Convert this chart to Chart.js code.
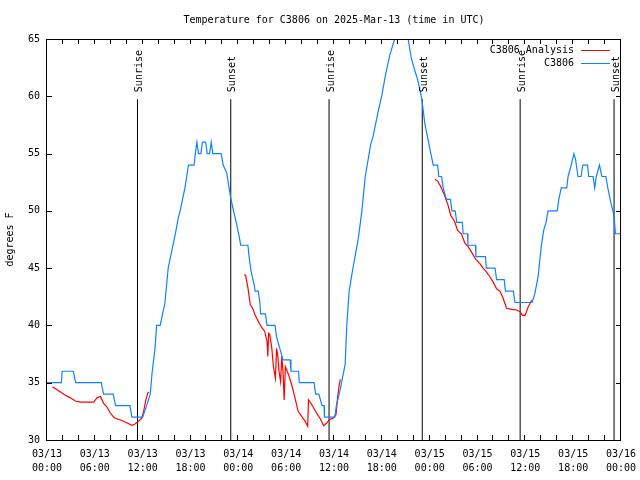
<!DOCTYPE html>
<html>
<head>
<meta charset="utf-8">
<script src="https://cdn.jsdelivr.net/npm/chart.js@4.4.1/dist/chart.umd.min.js"></script>
<style>
  html, body { margin: 0; padding: 0; background: #fff; }
</style>
</head>
<body>
<canvas id="tempChart" width="640" height="480"></canvas>
<script>
// Hours since 2025-03-13 00:00 UTC
const obsHours = [0, 1.8, 1.9, 3.3, 3.6, 6.8, 7.1, 8.3, 8.6, 10.4, 10.65, 12.0, 12.5, 12.95, 13.2, 13.55, 13.75, 14.2, 14.5, 14.8,
  15.2, 15.65, 16.1, 16.5, 16.7, 17.0, 17.3, 17.75, 18.45, 18.6, 18.8, 19.0, 19.3, 19.5, 19.9, 20.1, 20.4, 20.6, 20.8, 21.85,
  22.1, 22.55, 22.75, 23.05, 23.4, 23.8, 24.15, 24.3, 25.2, 25.35, 25.6, 26.0, 26.1, 26.5, 26.7, 26.8, 27.4, 27.6, 28.6, 28.8,
  29.2, 29.6, 30.5, 30.6, 31.55, 31.65, 33.5, 33.7, 34.1, 34.3, 34.5, 34.75, 34.8, 36.1, 36.3, 36.75, 37.4, 37.6, 37.9, 38.3,
  39.05, 39.5, 39.9, 40.6, 40.9, 41.55, 41.97, 42.5, 43.0, 43.65, 44.5, 45.3, 45.7, 46.2, 46.55, 47.0, 47.4, 47.8, 48.15, 48.45,
  49.0, 49.15, 49.5, 49.7, 50.1, 50.6, 50.8, 51.2, 51.4, 52.1, 52.2, 52.75, 52.8, 53.75, 53.8, 55.0, 55.1, 56.2, 56.4, 57.35,
  57.5, 58.5, 58.7, 60.85, 61.2, 61.6, 62.0, 62.3, 62.6, 62.85, 64.0, 64.2, 64.5, 65.2, 65.36, 65.7, 66.1, 66.3, 66.6, 67.0,
  67.2, 67.8, 67.95, 68.5, 68.7, 68.9, 69.3, 69.6, 70.1, 70.4, 70.75, 71.05, 71.2, 71.3, 72];
const obsTemps = [35, 35, 36, 36, 35, 35, 34, 34, 33, 33, 32, 32, 33, 34, 36, 38, 40, 40, 41, 42,
  45, 46.5, 48, 49.5, 50, 51, 52, 54, 54, 55, 56, 55, 55, 56, 56, 55, 55, 56, 55, 55,
  54, 53.3, 52.4, 51.1, 50, 48.8, 47.6, 47, 47, 46, 44.7, 43.5, 43, 43, 42, 41, 41, 40, 40, 39,
  38, 37, 37, 36, 36, 35, 35, 34, 34, 33.5, 33, 33, 32, 32, 33, 34.3, 36.6, 40, 43, 44.7,
  47.6, 50, 52.9, 55.8, 56.5, 58.7, 60, 62, 63.6, 65.1, 66, 65, 63.3, 62.1, 61.3, 59.8, 57.6, 56.2, 55, 54,
  54, 53, 53, 52, 51, 51, 50, 50, 49, 49, 48, 48, 47, 47, 46, 46, 45, 45, 44, 44,
  43, 43, 42, 42, 42.8, 44.25, 46.9, 48.3, 49, 50, 50, 51, 52, 52, 53, 53.85, 55, 54.5, 53, 53,
  54, 54, 53, 53, 52, 53, 54, 53, 53, 51.8, 50.65, 49.8, 48.9, 48, 48];

// Analysis runs (null breaks the line between runs)
const anaHours = [0.7, 1.45, 2.3, 2.9, 3.55, 4.2, 5.85, 6.3, 6.7, 7.1, 7.5, 7.9, 8.35, 8.56, 9.4, 10.0, 10.65, 11.0, 11.5, 11.9,
  12.15, 12.4, 12.65, 12.75, 18,
  24.7, 24.9, 25.2, 25.5, 25.8, 26.1, 26.5, 26.95, 27.3, 27.6, 27.7, 27.8, 27.95, 28.2, 28.4, 28.65, 28.8, 28.95, 29.1, 29.3,
  29.45, 29.6, 29.75, 29.9, 30.3, 30.7, 31.1, 31.5, 31.95, 32.4, 32.7, 32.8, 33.2, 33.8, 34.25, 34.7, 35.1, 35.5, 35.9, 36.25,
  36.45, 36.65, 36.8, 42,
  48.65, 49.0, 49.4, 49.9, 50.3, 50.65, 51.15, 51.5, 52.0, 52.4, 52.8, 53.25, 53.75, 54.3, 54.7, 55.1, 55.55, 55.95, 56.4, 56.8,
  57.2, 57.65, 58.3, 58.9, 59.35, 59.6, 59.95, 60.35, 60.8];
const anaTemps = [34.65, 34.3, 33.9, 33.7, 33.4, 33.3, 33.3, 33.7, 33.8, 33.2, 32.9, 32.4, 32.0, 31.9, 31.7, 31.5, 31.28, 31.37, 31.66, 31.9,
  32.6, 33.5, 34.1, 34.2, null,
  44.4, 44.4, 43.3, 41.8, 41.5, 40.9, 40.35, 39.8, 39.5, 38.6, 37.3, 39.3, 39.2, 38.0, 36.4, 35.4, 38.0, 37.3, 36.0, 35.1,
  37.3, 36.0, 33.5, 36.4, 35.7, 34.8, 33.7, 32.5, 32.07, 31.6, 31.2, 33.5, 33.1, 32.36, 31.9, 31.25, 31.5, 31.8, 31.9, 32.2,
  33.7, 34.8, 35.3, null,
  52.75, 52.6, 52.1, 51.3, 50.5, 49.6, 49.05, 48.3, 47.97, 47.2, 46.9, 46.4, 45.8, 45.4, 45.0, 44.7, 44.25, 43.8, 43.2, 43.0,
  42.4, 41.5, 41.4, 41.35, 41.2, 40.9, 40.85, 41.6, 42.2];

const sunriseHours = [11.35, 35.38, 59.35];
const sunsetHours = [23.05, 47.07, 71.13];
const sunLineTop = 59.75;

const xTickLabels = [['03/13', '00:00'], ['03/13', '06:00'], ['03/13', '12:00'], ['03/13', '18:00'],
  ['03/14', '00:00'], ['03/14', '06:00'], ['03/14', '12:00'], ['03/14', '18:00'],
  ['03/15', '00:00'], ['03/15', '06:00'], ['03/15', '12:00'], ['03/15', '18:00'], ['03/16', '00:00']];
const yTicks = [30, 35, 40, 45, 50, 55, 60, 65];

const titleText = 'Temperature for C3806 on 2025-Mar-13 (time in UTC)';
const yTitle = 'degrees F';
const blue = '#0f82ff';
const red = '#ff0000';
const monoFont = "'DejaVu Sans Mono', 'Liberation Mono', monospace";

Chart.defaults.font.family = monoFont;
Chart.defaults.font.size = 10;
Chart.defaults.color = '#000';

function sunLine(h, label) {
  return {
    label: label,
    data: [{ x: h, y: 30 }, { x: h, y: sunLineTop }],
    borderColor: '#000',
    borderWidth: 1,
    pointRadius: 0,
    isSun: true
  };
}

// Draws the gnuplot style frame, inward ticks, title, legend and sun labels
const gnuplotDecor = {
  id: 'gnuplotDecor',
  afterDraw(chart) {
    const ctx = chart.ctx;
    const a = chart.chartArea;
    const xs = chart.scales.x;
    const ys = chart.scales.y;
    ctx.save();
    ctx.strokeStyle = '#000';
    ctx.lineWidth = 1;
    ctx.strokeRect(Math.round(a.left) - 0.5, Math.round(a.top) + 0.5, Math.round(a.right - a.left), Math.round(a.bottom - a.top));

    ctx.beginPath();
    for (let h = 0; h <= 72; h += 2) {
      const px = Math.round(xs.getPixelForValue(h)) - 0.5;
      ctx.moveTo(px, a.bottom); ctx.lineTo(px, a.bottom - 5);
      ctx.moveTo(px, a.top); ctx.lineTo(px, a.top + 5);
    }
    yTicks.forEach(v => {
      const py = Math.round(ys.getPixelForValue(v)) + 0.5;
      ctx.moveTo(a.left, py); ctx.lineTo(a.left + 5, py);
      ctx.moveTo(a.right, py); ctx.lineTo(a.right - 5, py);
    });
    ctx.stroke();

    ctx.fillStyle = '#000';
    ctx.font = '10px ' + monoFont;
    ctx.textAlign = 'center';
    ctx.textBaseline = 'middle';
    ctx.fillText(titleText, (a.left + a.right) / 2, 20);

    ctx.save();
    ctx.translate(10, (a.top + a.bottom) / 2);
    ctx.rotate(-Math.PI / 2);
    ctx.fillText(yTitle, 0, 0);
    ctx.restore();

    // sunrise / sunset labels
    chart.data.datasets.forEach(ds => {
      if (!ds.isSun) return;
      const px = xs.getPixelForValue(ds.data[0].x);
      const py = ys.getPixelForValue(sunLineTop) - 7;
      ctx.save();
      ctx.translate(px + 2, py);
      ctx.rotate(-Math.PI / 2);
      ctx.textAlign = 'left';
      ctx.fillText(ds.label, 0, 0);
      ctx.restore();
    });

    // legend
    const legend = [['C3806 Analysis', red], ['C3806', blue]];
    ctx.textAlign = 'right';
    legend.forEach((item, i) => {
      const ly = a.top + 11 + i * 13;
      ctx.fillText(item[0], a.right - 47, ly);
      ctx.strokeStyle = item[1];
      ctx.beginPath();
      ctx.moveTo(a.right - 40, ly + 0.5);
      ctx.lineTo(a.right - 11, ly + 0.5);
      ctx.stroke();
    });
    ctx.restore();
  }
};

const ctx = document.getElementById('tempChart').getContext('2d');
new Chart(ctx, {
  type: 'line',
  data: {
    datasets: [
      {
        label: 'C3806',
        data: obsHours.map((h, i) => ({ x: h, y: obsTemps[i] })),
        borderColor: blue,
        borderWidth: 1.2,
        pointRadius: 0,
        tension: 0
      },
      {
        label: 'C3806 Analysis',
        data: anaHours.map((h, i) => ({ x: h, y: anaTemps[i] })),
        borderColor: red,
        borderWidth: 1.2,
        pointRadius: 0,
        tension: 0,
        spanGaps: false
      },
      ...sunriseHours.map(h => sunLine(h, 'Sunrise')),
      ...sunsetHours.map(h => sunLine(h, 'Sunset'))
    ]
  },
  options: {
    responsive: false,
    animation: false,
    devicePixelRatio: 1,
    layout: { padding: { top: 39, right: 19, left: 0, bottom: 0 } },
    plugins: {
      legend: { display: false },
      tooltip: { enabled: false },
      title: { display: false }
    },
    scales: {
      x: {
        type: 'linear',
        min: 0,
        max: 72,
        grid: { display: false, drawTicks: false },
        border: { display: false },
        ticks: {
          stepSize: 6,
          autoSkip: false,
          maxRotation: 0,
          padding: 7,
          font: { size: 10, lineHeight: 1.4 },
          callback: (v, i) => xTickLabels[i]
        },
        afterFit: s => { s.height = 40; s.paddingLeft = 0; s.paddingRight = 0; }
      },
      y: {
        min: 30,
        max: 65,
        grid: { display: false, drawTicks: false },
        border: { display: false },
        ticks: { stepSize: 5, padding: 7, font: { size: 10 } },
        afterFit: s => { s.width = 47; s.paddingTop = 0; s.paddingBottom = 0; }
      }
    }
  },
  plugins: [gnuplotDecor]
});
</script>
</body>
</html>
